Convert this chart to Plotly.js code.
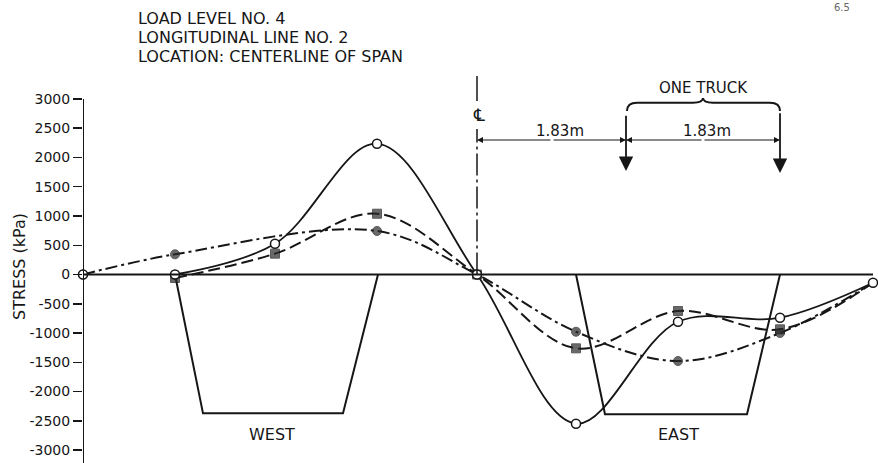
<!DOCTYPE html>
<html>
<head>
<meta charset="utf-8">
<script src="https://cdn.plot.ly/plotly-3.0.1.min.js"></script>
<style>html,body{margin:0;padding:0;background:#fff;}#chart{width:878px;height:463px;}</style>
</head>
<body>
<div id="chart"></div>
<script>
// Gauge stations (units of gauge spacing, centerline of span = 0)
const STATIONS = [-3.94, -3.02, -2.02, -1.00, 0, 0.99, 2.01, 3.03, 3.96];

// Stress (kPa) — solid line, open circles
const OPEN_X = [-3.02, -2.02, -1.00, 0, 0.99, 2.01, 3.03, 3.96];
const OPEN_Y = [0, 526, 2236, 0, -2550, -807, -738, -140];

// Stress (kPa) — dashed line, filled squares
const SQUARE_X = [-3.02, -2.02, -1.00, 0, 0.99, 2.01, 3.03, 3.96];
const SQUARE_Y = [-60, 356, 1039, 0, -1262, -624, -937, -140];

// Stress (kPa) — dash-dot line, filled circles
const DOT_X = [-3.94, -3.02, -1.00, 0, 0.99, 2.01, 3.03, 3.96];
const DOT_Y = [0, 345, 744, 0, -978, -1479, -1000, -140];

// Origin reference point
const ORIGIN_X = [-3.94];
const ORIGIN_Y = [0];

// Y tick values and labels
const Y_TICKS = [3000, 2500, 2000, 1500, 1000, 500, 0, -500, -1000, -1500, -2000, -2500, -3000];
const Y_LABELS = ['3000', '2500', '2000', '1500', '1000', '500', '0', '-500', '-1000', '-1500', '-2000', '-2500', '-3000'];

// Girder outlines (cross-section sketch)
const WEST_X = [-3.02, -2.74, -1.34, -0.99];
const WEST_Y = [0, -2373, -2373, 0];
const EAST_X = [0.99, 1.28, 2.70, 3.03];
const EAST_Y = [0, -2390, -2390, 0];

// Truck wheel lines
const WHEEL_X = [1.49, 3.03];

const INK = '#161616';
const MARK = '#2a2a2a';
const FONT = 'DejaVu Sans, Liberation Sans, sans-serif';
const Y_RANGE = [-3222, 4692];
const X_RANGE = [-3.94, 4.01];

function lastHidden(arr, size) { return arr.map((v, i) => i === arr.length - 1 ? 0 : size); }

const traces = [
  { x: WEST_X, y: WEST_Y, mode: 'lines', line: { color: INK, width: 2 }, hoverinfo: 'skip', showlegend: false },
  { x: EAST_X, y: EAST_Y, mode: 'lines', line: { color: INK, width: 2 }, hoverinfo: 'skip', showlegend: false },
  { x: DOT_X, y: DOT_Y, mode: 'lines+markers', line: { color: INK, width: 2, dash: '12px,4px,3px,4px', shape: 'spline' },
    marker: { symbol: 'circle', size: lastHidden(DOT_Y, 9), color: MARK }, cliponaxis: false, showlegend: false },
  { x: SQUARE_X, y: SQUARE_Y, mode: 'lines+markers', line: { color: INK, width: 2, dash: '12px,5px', shape: 'spline' },
    marker: { symbol: 'square', size: lastHidden(SQUARE_Y, 9), color: MARK }, cliponaxis: false, showlegend: false },
  { x: OPEN_X, y: OPEN_Y, mode: 'lines+markers', line: { color: INK, width: 1.8, shape: 'spline' },
    marker: { symbol: 'circle', size: 9, color: '#fff', line: { color: INK, width: 1.5 } }, cliponaxis: false, showlegend: false },
  { x: ORIGIN_X, y: ORIGIN_Y, mode: 'markers',
    marker: { symbol: 'circle', size: 9, color: '#fff', line: { color: INK, width: 1.5 } }, cliponaxis: false, showlegend: false }
];

const shapes = [
  // y axis line
  { type: 'line', xref: 'x', yref: 'y', x0: X_RANGE[0], x1: X_RANGE[0], y0: Y_RANGE[0], y1: 3000, line: { color: INK, width: 2 } },
  // zero baseline
  { type: 'line', xref: 'x', yref: 'y', x0: STATIONS[0], x1: STATIONS[STATIONS.length - 1], y0: 0, y1: 0, line: { color: INK, width: 2 } },
  // centerline: solid top, dashed lower part
  { type: 'line', xref: 'x', yref: 'y', x0: 0, x1: 0, y0: 2966, y1: 3393, line: { color: INK, width: 1.5 } },
  { type: 'line', xref: 'x', yref: 'y', x0: 0, x1: 0, y0: 0, y1: 2487, line: { color: INK, width: 1.5, dash: '22px,4px,3px,4px' } },
  // brace over the truck
  { type: 'path', xref: 'x', yref: 'y',
    path: 'M 1.50,2795 Q 1.50,2937 1.60,2937 L 2.16,2937 Q 2.26,2937 2.26,3017 Q 2.26,2937 2.36,2937 L 2.93,2937 Q 3.03,2937 3.03,2795',
    line: { color: INK, width: 2 } }
];

function arrow(x, y, ax, ay, size, width) {
  return { x: x, y: y, ax: ax, ay: ay, xref: 'x', yref: 'y', axref: 'x', ayref: 'y', text: '',
    showarrow: true, arrowhead: 2, arrowsize: size, arrowwidth: width, arrowcolor: INK };
}

const annotations = [
  { text: 'LOAD LEVEL NO. 4', xref: 'x', yref: 'y', x: -3.41, y: 4368, xanchor: 'left', yanchor: 'middle', showarrow: false, font: { family: FONT, size: 16, color: INK } },
  { text: 'LONGITUDINAL LINE NO. 2', xref: 'x', yref: 'y', x: -3.41, y: 4043, xanchor: 'left', yanchor: 'middle', showarrow: false, font: { family: FONT, size: 16, color: INK } },
  { text: 'LOCATION: CENTERLINE OF SPAN', xref: 'x', yref: 'y', x: -3.41, y: 3718, xanchor: 'left', yanchor: 'middle', showarrow: false, font: { family: FONT, size: 16, color: INK } },
  { text: '6.5', xref: 'paper', yref: 'paper', x: 0.955, y: 1, xanchor: 'center', yanchor: 'top', showarrow: false, font: { family: FONT, size: 10, color: '#666' } },
  { text: 'STRESS (kPa)', xref: 'paper', yref: 'y', x: -0.0805, y: 128, textangle: -90, xanchor: 'center', yanchor: 'middle', showarrow: false, font: { family: FONT, size: 16, color: INK } },
  { text: '℄', xref: 'x', yref: 'y', x: 0.02, y: 2726, showarrow: false, font: { family: FONT, size: 17, color: INK } },
  { text: '1.83m', xref: 'x', yref: 'y', x: 0.83, y: 2453, showarrow: false, font: { family: FONT, size: 15, color: INK } },
  { text: '1.83m', xref: 'x', yref: 'y', x: 2.30, y: 2453, showarrow: false, font: { family: FONT, size: 15, color: INK } },
  { text: 'ONE TRUCK', xref: 'x', yref: 'y', x: 2.26, y: 3188, showarrow: false, font: { family: FONT, size: 15, color: INK } },
  { text: 'WEST', xref: 'x', yref: 'y', x: -2.05, y: -2727, showarrow: false, font: { family: FONT, size: 16, color: INK } },
  { text: 'EAST', xref: 'x', yref: 'y', x: 2.01, y: -2743, showarrow: false, font: { family: FONT, size: 16, color: INK } },
  // dimension arrows
  arrow(0, 2299, 0.75, 2299, 1, 1.2),
  arrow(WHEEL_X[0], 2299, 0.75, 2299, 1, 1.2),
  arrow(WHEEL_X[0], 2299, 2.26, 2299, 1, 1.2),
  arrow(WHEEL_X[1], 2299, 2.26, 2299, 1, 1.2),
  // wheel load arrows
  arrow(WHEEL_X[0], 1769, WHEEL_X[0], 2740, 1.6, 1.8),
  arrow(WHEEL_X[1], 1735, WHEEL_X[1], 2780, 1.6, 1.8)
];

const layout = {
  width: 878, height: 463,
  margin: { l: 83, r: 0, t: 0, b: 0 },
  paper_bgcolor: '#fff', plot_bgcolor: '#fff',
  showlegend: false,
  xaxis: { range: X_RANGE, visible: false, showgrid: false, zeroline: false, fixedrange: true },
  yaxis: { range: Y_RANGE, showgrid: false, zeroline: false, showline: false,
    tickmode: 'array', tickvals: Y_TICKS, ticktext: Y_LABELS,
    ticks: 'outside', ticklen: 9, tickwidth: 1.5, tickcolor: INK,
    tickfont: { family: FONT, size: 14, color: INK }, fixedrange: true },
  shapes: shapes,
  annotations: annotations
};

Plotly.newPlot('chart', traces, layout, { displayModeBar: false, staticPlot: true });
</script>
</body>
</html>
